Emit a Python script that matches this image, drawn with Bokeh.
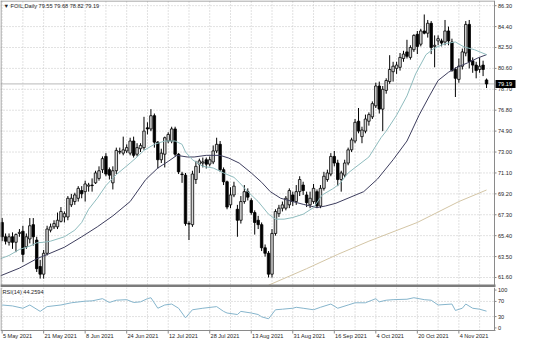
import numpy as np
from bokeh.plotting import figure
from bokeh.layouts import column
from bokeh.models import ColumnDataSource, Range1d
from bokeh.core.properties import value
from bokeh.embed import file_html
from bokeh.resources import INLINE

symbol = "FOIL,Daily"

opens = [66.6, 65.3, 64.8, 65.3, 64.8, 65.6, 65.8, 64.4, 65.1, 66.4,
         65.0, 62.6, 61.9, 63.8, 65.9, 66.2, 66.2, 66.7, 67.1, 67.1,
         68.2, 68.5, 68.8, 69.5, 69.4, 69.9, 70.0, 70.2, 70.6, 71.4,
         72.6, 71.4, 70.2, 71.3, 73.0, 72.9, 73.1, 72.9, 74.0, 72.8,
         73.3, 73.4, 75.2, 75.1, 76.3, 73.9, 72.3, 72.8, 74.0, 74.0,
         75.1, 72.8, 71.0, 70.9, 66.5, 66.4, 70.5, 71.9, 72.0, 72.3,
         71.9, 72.1, 73.1, 73.7, 71.4, 70.3, 68.2, 69.1, 67.8, 66.8,
         68.5, 69.4, 68.6, 67.5, 66.8, 66.4, 64.3, 63.8, 61.9, 65.6,
         67.4, 67.9, 67.9, 68.2, 69.1, 68.5, 69.4, 70.0, 69.1, 68.2,
         68.5, 69.4, 68.1, 69.7, 70.5, 71.0, 72.6, 72.0, 70.5, 70.9,
         72.0, 73.2, 74.0, 75.8, 74.4, 74.9, 75.8, 76.2, 77.2, 79.0,
         76.9, 78.6, 79.4, 80.3, 80.6, 80.7, 81.5, 82.1, 81.6, 82.3,
         83.7, 82.8, 84.0, 83.8, 84.7, 82.6, 83.1, 83.1, 83.0, 84.0,
         83.0, 80.5, 79.6, 80.8, 82.0, 84.6, 81.3, 80.9, 80.5, 80.9,
         79.55]
highs = [67.0, 65.6, 65.6, 65.7, 65.6, 66.0, 66.3, 65.6, 67.0, 67.0,
         65.3, 63.2, 64.1, 66.3, 66.5, 66.8, 67.5, 68.0, 67.6, 69.0,
         69.2, 69.3, 69.9, 69.9, 70.4, 70.2, 70.6, 71.3, 71.7, 72.6,
         72.9, 71.6, 71.7, 73.4, 73.4, 74.4, 73.7, 74.3, 74.4, 73.8,
         73.8, 76.2, 75.7, 76.9, 76.5, 74.0, 73.3, 74.4, 74.8, 75.3,
         75.3, 72.9, 71.2, 71.1, 66.7, 71.3, 72.2, 72.4, 72.5, 72.5,
         72.6, 73.6, 74.3, 74.0, 71.6, 70.4, 69.8, 70.3, 68.2, 69.0,
         70.0, 69.7, 68.8, 67.7, 67.2, 66.6, 64.6, 64.0, 66.0, 67.8,
         68.2, 68.5, 69.0, 69.7, 69.4, 70.0, 70.8, 70.3, 69.4, 69.4,
         70.1, 69.6, 70.0, 71.2, 71.4, 72.9, 73.1, 72.3, 71.3, 72.3,
         73.4, 74.3, 76.0, 77.0, 75.3, 76.4, 76.6, 77.6, 79.3, 79.4,
         79.0, 79.7, 81.8, 81.2, 81.2, 82.0, 82.2, 83.2, 82.7, 83.7,
         84.0, 84.2, 85.5, 85.0, 84.9, 83.6, 83.6, 83.3, 85.0, 84.4,
         83.3, 80.7, 81.5, 82.4, 84.9, 85.0, 81.6, 81.2, 81.6, 81.3,
         79.68]
lows = [64.9, 64.6, 64.5, 64.2, 63.9, 65.3, 63.0, 64.2, 64.7, 64.5,
        62.1, 61.5, 61.5, 63.6, 65.7, 66.0, 66.0, 66.6, 66.6, 66.8,
        68.0, 68.2, 68.5, 68.8, 68.5, 69.4, 69.4, 70.1, 70.4, 71.1,
        70.8, 70.5, 69.6, 71.0, 72.8, 72.7, 72.9, 72.7, 72.5, 72.6,
        73.0, 73.2, 74.6, 74.9, 73.4, 71.5, 72.0, 71.6, 73.8, 73.8,
        72.6, 71.0, 70.2, 66.3, 65.0, 66.2, 70.1, 71.1, 71.6, 71.5,
        71.7, 71.9, 72.9, 71.2, 70.0, 67.8, 67.9, 68.9, 65.3, 66.5,
        68.3, 68.6, 67.3, 65.5, 66.0, 64.0, 63.5, 61.6, 61.6, 65.4,
        67.1, 67.6, 67.7, 67.9, 68.1, 68.2, 69.0, 69.1, 68.0, 67.9,
        68.3, 67.9, 67.9, 69.5, 70.3, 70.8, 71.7, 69.9, 69.4, 70.7,
        71.8, 73.0, 73.8, 74.7, 73.8, 74.7, 75.4, 76.0, 77.0, 76.5,
        74.9, 78.3, 79.2, 79.4, 80.1, 80.4, 81.2, 81.5, 81.4, 82.1,
        81.9, 82.6, 83.7, 83.4, 81.9, 80.7, 82.7, 82.6, 82.7, 82.7,
        80.3, 78.0, 79.3, 80.5, 81.7, 80.6, 80.2, 79.7, 80.2, 79.9,
        78.82]
closes = [65.3, 64.9, 65.3, 64.8, 65.5, 65.7, 63.7, 65.3, 66.3, 65.3,
          62.4, 61.9, 63.8, 66.0, 66.2, 66.5, 66.8, 67.6, 67.4, 68.8,
          68.8, 69.1, 69.7, 69.2, 70.1, 70.0, 69.95, 71.1, 71.3, 72.4,
          71.0, 70.9, 71.3, 73.15, 73.05, 73.2, 73.4, 74.0, 72.7, 73.4,
          73.6, 74.9, 75.1, 76.3, 73.9, 72.3, 72.9, 74.3, 74.6, 75.1,
          72.8, 71.2, 70.95, 66.5, 66.45, 71.0, 71.7, 72.2, 72.1, 71.9,
          72.3, 73.1, 73.7, 71.4, 70.3, 68.0, 69.1, 69.9, 66.8, 68.5,
          69.4, 68.9, 67.5, 66.6, 66.4, 64.3, 63.8, 61.9, 65.6, 67.6,
          67.9, 68.2, 68.8, 69.5, 68.5, 69.4, 70.5, 69.5, 68.4, 68.8,
          69.7, 68.1, 69.7, 70.8, 71.1, 72.6, 72.0, 70.5, 71.1, 72.0,
          73.2, 74.1, 75.7, 74.9, 75.0, 76.0, 76.4, 77.4, 79.0, 76.9,
          78.7, 79.5, 80.5, 80.8, 80.9, 81.6, 81.9, 81.7, 82.5, 83.6,
          82.6, 84.0, 83.8, 84.7, 82.5, 82.7, 83.3, 82.9, 84.0, 83.1,
          80.4, 79.7, 80.8, 82.1, 84.6, 81.2, 80.9, 80.4, 80.8, 80.5,
          79.19]

# moving averages (bar index, price)
ma_fast_idx = [-0.5, 2, 5, 8, 10, 12, 14, 18, 21, 23, 25, 27.5, 30, 33, 37, 39, 41, 44, 47, 50,
               52, 53, 55, 58, 61, 64, 67, 68.5, 71, 74, 77, 79, 81.5, 84, 87, 90, 92.5, 95.5,
               97.5, 100, 106, 109.5, 111, 114, 117, 119.5, 122.5, 125, 128, 131, 133.5, 136.5, 140]
ma_fast_val = [63.3, 63.6, 64.15, 64.45, 64.75, 64.8, 64.9, 65.3, 65.9, 66.6, 67.8, 68.8, 69.95,
               70.95, 72.0, 72.55, 73.15, 73.7, 74.0, 74.0, 73.7, 73.0, 72.3, 71.7, 71.55, 71.1,
               70.7, 70.25, 69.4, 68.5, 67.35, 66.9, 66.9, 67.05, 67.35, 67.95, 69.1, 69.65,
               70.1, 71.1, 72.55, 74.3, 74.9, 76.35, 78.1, 80.1, 81.85, 82.45, 82.85, 83.0,
               82.55, 82.3, 81.85]
ma_slow_idx = [-0.5, 5, 10, 13.5, 18, 23, 27.5, 32, 37, 41.5, 45, 48, 50.5, 53.5, 55.5, 59, 63,
               65.5, 68.5, 72, 75, 77.5, 80.5, 84, 87, 91, 93.5, 96.5, 104.5, 108.5, 113, 117,
               120.5, 123.5, 126, 129, 131.5, 134.5, 137.5, 140]
ma_slow_val = [61.75, 62.45, 63.3, 63.75, 64.35, 65.3, 66.2, 67.2, 68.5, 70.5, 71.55, 72.15,
               72.7, 72.55, 72.55, 72.7, 72.7, 72.45, 72.0, 71.1, 70.25, 69.4, 68.8, 68.5, 68.25,
               67.95, 68.1, 68.35, 69.4, 70.55, 72.3, 74.0, 76.35, 78.1, 79.5, 80.25, 80.7,
               81.1, 81.55, 81.85]
ma_long_idx = [77, 88, 97, 106, 120, 132, 140]
ma_long_val = [60.9, 62.4, 63.7, 64.9, 66.6, 68.5, 69.55]

rsi_idx = [0, 3, 6, 8, 11, 13, 17, 20, 24, 26, 29, 31, 33, 36, 38, 40, 42, 43, 45, 47, 49, 51,
           53, 55, 58, 62, 64, 65, 68, 69, 72, 74, 75, 77, 79, 81, 84, 85, 87, 90, 92, 95, 97,
           100, 102, 105, 108, 109, 111, 113, 117, 119, 122, 124, 126, 130, 131, 133, 134, 136,
           138, 140]
rsi_val = [60.6, 58.1, 52.0, 60.6, 43.7, 56.3, 60.6, 66.4, 70.7, 71.5, 77.3, 67.2, 73.2, 74.7,
           67.2, 68.9, 77.3, 79.8, 52.0, 60.6, 63.1, 52.0, 26.8, 48.0, 52.0, 56.3, 43.7, 39.4,
           35.4, 43.7, 39.4, 35.4, 29.3, 24.2, 48.0, 49.5, 52.0, 54.5, 52.0, 48.0, 54.5, 63.1,
           52.0, 60.6, 66.4, 66.4, 77.3, 68.9, 73.2, 74.7, 75.8, 79.8, 74.7, 73.2, 60.6, 63.1,
           46.2, 52.0, 63.1, 52.0, 49.5, 44.2594]

date_tick_idx = [0, 12, 24, 36, 48, 60, 72, 84, 96, 108, 120, 132]
date_tick_labels = ["5 May 2021", "21 May 2021", "8 Jun 2021", "24 Jun 2021", "12 Jul 2021",
                    "28 Jul 2021", "13 Aug 2021", "31 Aug 2021", "16 Sep 2021", "4 Oct 2021",
                    "20 Oct 2021", "4 Nov 2021"]
price_ticks = [61.60, 63.50, 65.40, 67.30, 69.20, 71.10, 73.00, 74.90, 76.80, 78.70, 80.60,
               82.50, 84.40, 86.30]
rsi_ticks = [0, 30, 70, 100]
rsi_levels = [30, 70]
grid_idx = list(range(0, 142, 6))

# ---------------------------------------------------------------- geometry
FONT = value("Liberation Sans")
FS = value("5.6px")
TXT = "#1e1e1e"
GRID = "#c4c4c4"
BORDER = "#8a8a8a"
W, H = 520, 341
FRAME_W = 494                 # width of the chart area, the rest holds the price scale
H_MAIN = 287
H_RSI = H - H_MAIN
RSI_PANE_H = 43               # drawing area of the RSI pane, the rest holds the dates
X0, X1 = -0.47, 142.3         # visible bar span of the chart area
Y0, Y1 = 60.69, 86.77         # price span of the main pane
R0, R1 = -6.8, 106.8          # RSI span of the RSI pane

bx = (X1 - X0) / FRAME_W      # bars per pixel
XE = X0 + W * bx
by = (Y1 - Y0) / H_MAIN       # price per pixel
br = (R1 - R0) / RSI_PANE_H   # rsi units per pixel
RB = R0 - (H_RSI - RSI_PANE_H) * br


def base_fig(height, y0, y1):
    f = figure(width=W, height=height, x_range=Range1d(X0, XE), y_range=Range1d(y0, y1),
               x_axis_location=None, y_axis_location=None, output_backend="svg",
               toolbar_location=None, min_border=0, min_border_left=0, min_border_right=0,
               min_border_top=0, min_border_bottom=0)
    f.background_fill_color = "white"
    f.border_fill_color = "white"
    f.outline_line_color = None
    f.xgrid.grid_line_color = None
    f.ygrid.grid_line_color = None
    return f


def txt(f, xs, ys, labels, color=TXT, align="left", baseline="middle"):
    f.text(x=xs, y=ys, text=labels, text_font=FONT, text_font_size=FS, text_color=color,
           text_align=align, text_baseline=baseline)


# ---------------------------------------------------------------- main pane
p = base_fig(H_MAIN, Y0, Y1)
n_g = len(grid_idx)
p.segment(x0=grid_idx, y0=[Y0] * n_g, x1=grid_idx, y1=[Y1] * n_g,
          line_color=GRID, line_dash="1 2", line_width=1)
n_p = len(price_ticks)
p.segment(x0=[X0] * n_p, y0=price_ticks, x1=[X1] * n_p, y1=price_ticks,
          line_color=GRID, line_dash="1 2", line_width=1)
# bid line
p.segment(x0=[X0], y0=[closes[-1]], x1=[X1], y1=[closes[-1]], line_color="#b8b8b8", line_width=1)

o = np.array(opens); h = np.array(highs); l = np.array(lows); c = np.array(closes)
idx = np.arange(len(c))
up = c >= o
top = np.maximum(o, c); bot = np.minimum(o, c)
wick_src = ColumnDataSource(dict(x=idx, lo=l, hi=h))
p.segment(x0="x", y0="lo", x1="x", y1="hi", source=wick_src, line_color="black", line_width=1)
up_src = ColumnDataSource(dict(x=idx[up], top=top[up], bot=bot[up]))
dn_src = ColumnDataSource(dict(x=idx[~up], top=top[~up], bot=bot[~up]))
p.vbar(x="x", width=0.72, top="top", bottom="bot", source=up_src,
       fill_color="#d6d6d6", line_color="black", line_width=0.8)
p.vbar(x="x", width=0.72, top="top", bottom="bot", source=dn_src,
       fill_color="black", line_color="black", line_width=0.8)

p.line(ma_long_idx, ma_long_val, line_color="#d3c5a5", line_width=1)
p.line(ma_slow_idx, ma_slow_val, line_color="#3e3e5e", line_width=1)
p.line(ma_fast_idx, ma_fast_val, line_color="#8fbcbe", line_width=1)

# frame lines, separator, price scale
p.segment(x0=[X0, X0 + 0.5 * bx, X1], y0=[Y1 - 0.5 * by, Y0, Y0],
          x1=[X1, X0 + 0.5 * bx, X1], y1=[Y1 - 0.5 * by, Y1, Y1],
          line_color=BORDER, line_width=1)
p.quad(left=[X0], right=[X1 + bx], bottom=[Y0], top=[Y0 + 3 * by],
       fill_color="#7c7c7c", line_color=None)
p.segment(x0=[X1] * n_p, y0=price_ticks, x1=[X1 + 2 * bx] * n_p, y1=price_ticks,
          line_color=BORDER, line_width=1)
txt(p, [X1 + 3.5 * bx] * n_p, price_ticks, ["%.2f" % t for t in price_ticks])
p.quad(left=[X1 + 1 * bx], right=[X1 + 21 * bx], bottom=[closes[-1] - 4 * by],
       top=[closes[-1] + 4 * by], fill_color="black", line_color=None)
txt(p, [X1 + 3.5 * bx], [closes[-1]], ["%.2f" % closes[-1]], color="white")

title_txt = "\u25bc %s  %.2f %.2f %.2f %.2f" % (symbol, opens[-1], highs[-1], lows[-1], closes[-1])
txt(p, [X0 + 3 * bx], [Y1 - 2.5 * by], [title_txt], baseline="top")

# ---------------------------------------------------------------- RSI pane
r = base_fig(H_RSI, RB, R1)
r.segment(x0=grid_idx, y0=[R0] * n_g, x1=grid_idx, y1=[R1] * n_g,
          line_color=GRID, line_dash="1 2", line_width=1)
n_l = len(rsi_levels)
r.segment(x0=[X0] * n_l, y0=rsi_levels, x1=[X1] * n_l, y1=rsi_levels,
          line_color=GRID, line_dash="1 2", line_width=1)
r.line(rsi_idx, rsi_val, line_color="#86b5cc", line_width=1)
r.segment(x0=[X0 + 0.5 * bx, X1, X0], y0=[R0, R0, R0],
          x1=[X0 + 0.5 * bx, X1, X1 + bx], y1=[R1, R1, R0],
          line_color=BORDER, line_width=1)
n_r = len(rsi_ticks)
r.segment(x0=[X1] * n_r, y0=rsi_ticks, x1=[X1 + 2 * bx] * n_r, y1=rsi_ticks,
          line_color=BORDER, line_width=1)
txt(r, [X1 + 3.5 * bx] * n_r, rsi_ticks, [str(t) for t in rsi_ticks])
n_d = len(date_tick_idx)
r.segment(x0=date_tick_idx, y0=[R0] * n_d, x1=date_tick_idx, y1=[R0 - 3 * br] * n_d,
          line_color=BORDER, line_width=1)
txt(r, [d + 0.8 * bx for d in date_tick_idx], [R0 - 2.2 * br] * n_d, date_tick_labels,
    baseline="top")
txt(r, [X0 + 2 * bx], [R1 - 1.5 * br], ["RSI(14) %.4f" % rsi_val[-1]], baseline="top")

layout = column(p, r, spacing=0)
open("out.html", "w").write(file_html(layout, INLINE))
